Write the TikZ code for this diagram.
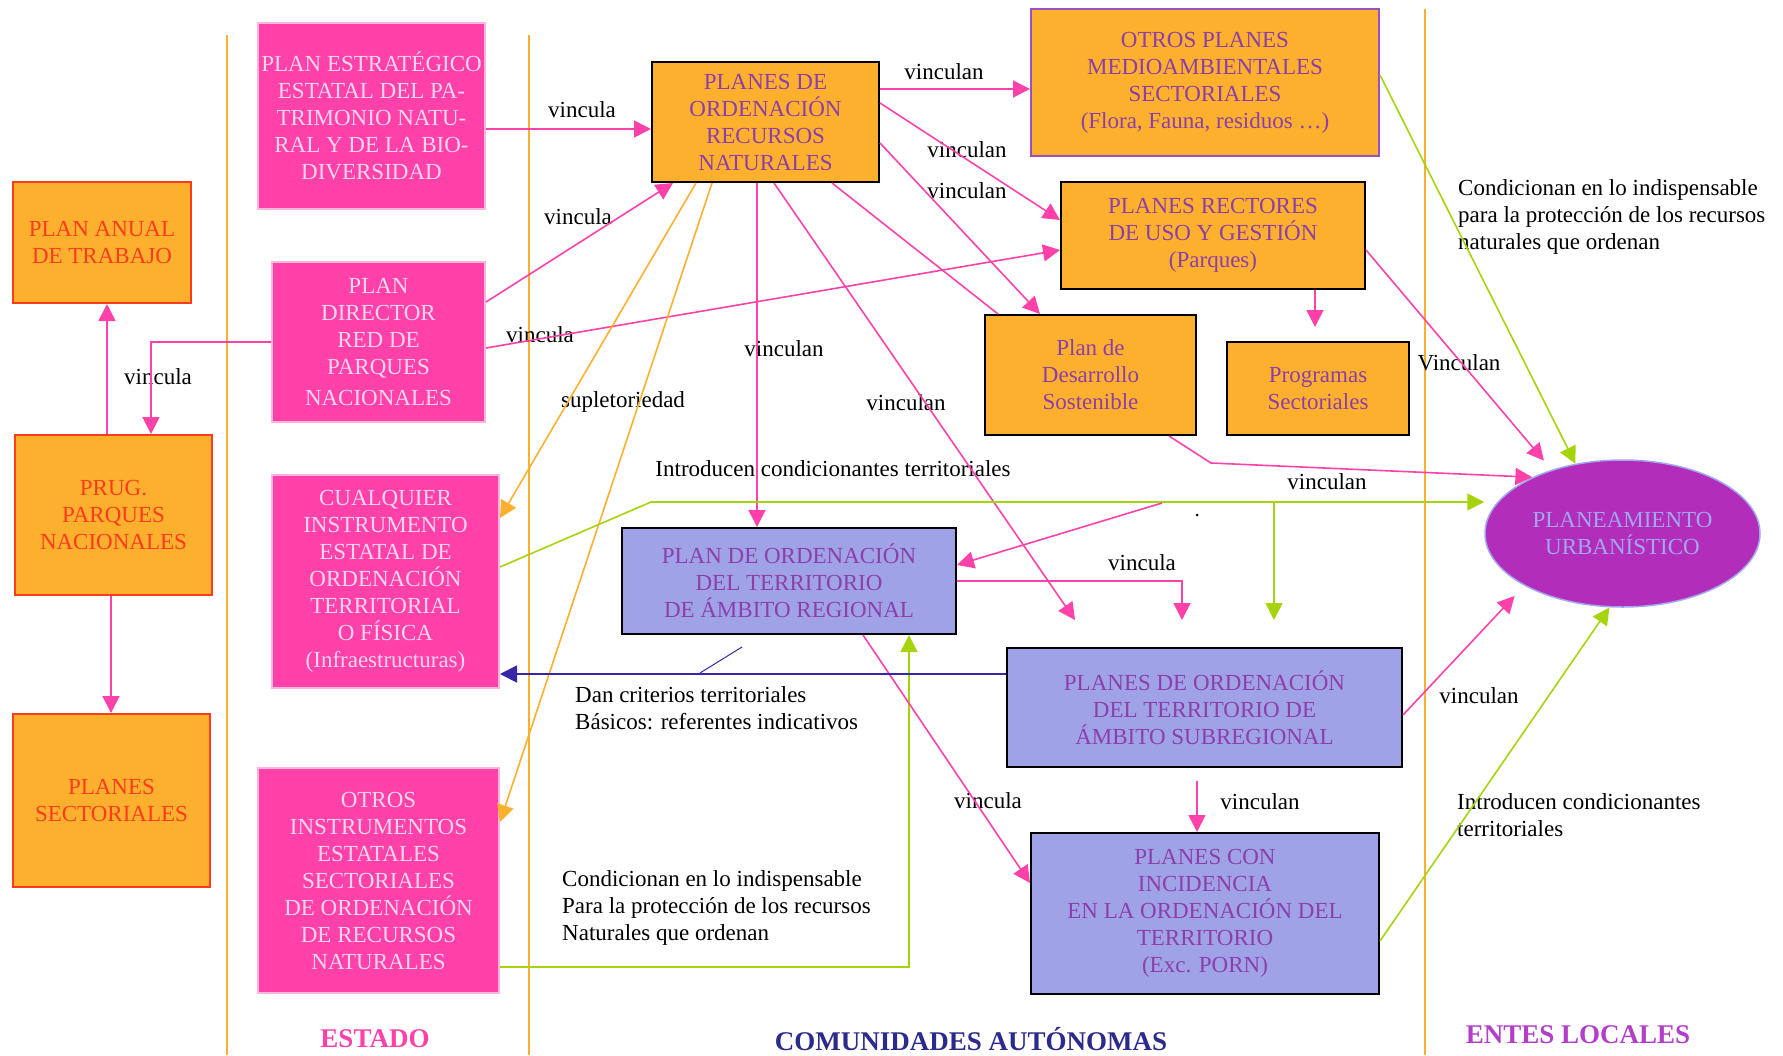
\documentclass[tikz,border=0pt]{standalone}
\usepackage{fontspec}
\setmainfont{Liberation Serif}
\usetikzlibrary{arrows.meta,shapes.geometric}
\definecolor{rosa}{HTML}{FF41A9}
\definecolor{rosaclaro}{HTML}{FFB6DA}
\definecolor{rosatxt}{HTML}{FFD5EC}
\definecolor{naranja}{HTML}{FDB02E}
\definecolor{rojo}{HTML}{FF3B1E}
\definecolor{morado}{HTML}{8C3FA8}
\definecolor{violeta}{HTML}{9B4EC6}
\definecolor{azulc}{HTML}{A0A2E8}
\definecolor{elipse}{HTML}{B32DBB}
\definecolor{lavanda}{HTML}{A2A6F0}
\definecolor{verde}{HTML}{A6D40C}
\definecolor{azulo}{HTML}{3826A8}
\definecolor{navy}{HTML}{2C2A8A}
\definecolor{entes}{HTML}{B23ECA}

\begin{document}
\begin{tikzpicture}[x=1pt,y=-1pt,
    caja/.style={rectangle,inner sep=0pt,align=center,line width=2pt,font=\fontsize{23}{27}\selectfont},
    crosa/.style={caja,fill=rosa,draw=rosaclaro,text=rosatxt},
    cnar/.style={caja,fill=naranja,draw=rojo,text=rojo},
    cnarn/.style={caja,fill=naranja,draw=black,text=morado},
    cazul/.style={caja,fill=azulc,draw=black,text=morado},
    etq/.style={inner sep=0pt,font=\fontsize{23}{27}\selectfont},
    tit/.style={inner sep=0pt,font=\fontsize{27}{30}\selectfont\bfseries},
    fl/.style={-{Triangle[length=17pt,width=17pt]}},
    lr/.style={draw=rosa,line width=1.6pt},
    ln/.style={draw=naranja,line width=1.6pt},
    lv/.style={draw=verde,line width=1.6pt},
    la/.style={draw=azulo,line width=1.8pt}]
    \useasboundingbox(0,0)rectangle(1783,1055);
    \foreach \x/\y in{227/35,529/35,1425/9}{
            \draw[naranja,line width=2pt](\x,\y)--(\x,1055);
        }
    \node[crosa,minimum width=227pt,minimum height=186pt](est)at(371.5,116){PLAN ESTRATÉGICO\\ESTATAL DEL PA-\\TRIMONIO NATU-\\RAL Y DE LA BIO-\\DIVERSIDAD};
    \node[cnar,minimum width=178pt,minimum height=121pt](anual)at(102,242.5){PLAN ANUAL\\DE TRABAJO};
    \node[crosa,minimum width=213pt,minimum height=160pt](dir)at(378.5,342){PLAN\\DIRECTOR\\RED DE\\PARQUES\\[4pt]NACIONALES};
    \node[cnar,minimum width=197pt,minimum height=160pt](prug)at(113.5,515){PRUG.\\PARQUES\\NACIONALES};
    \node[cnar,minimum width=197pt,minimum height=173pt](sect)at(111.5,800.5){PLANES\\SECTORIALES};
    \node[crosa,minimum width=227pt,minimum height=213pt](cual)at(385.5,581.5){CUALQUIER\\INSTRUMENTO\\ESTATAL DE\\ORDENACIÓN\\TERRITORIAL\\O FÍSICA\\(Infraestructuras)};
    \node[crosa,minimum width=241pt,minimum height=225pt](otros)at(378.5,880.5){OTROS\\INSTRUMENTOS\\ESTATALES\\SECTORIALES\\DE ORDENACIÓN\\DE RECURSOS\\NATURALES};
    \node[cnarn,minimum width=227pt,minimum height=120pt](porn)at(765.5,122){PLANES DE\\ORDENACIÓN\\RECURSOS\\NATURALES};
    \node[cnarn,draw=violeta,minimum width=348pt,minimum height=147pt](opm)at(1205,82.5){OTROS PLANES\\MEDIOAMBIENTALES\\SECTORIALES\\(Flora, Fauna, residuos …)};
    \node[cnarn,minimum width=304pt,minimum height=107pt](rect)at(1213,235.5){PLANES RECTORES\\DE USO Y GESTIÓN\\(Parques)};
    \node[cnarn,minimum width=211pt,minimum height=120pt](pds)at(1090.5,375){Plan de\\Desarrollo\\Sostenible};
    \node[cnarn,minimum width=182pt,minimum height=93pt](prog)at(1318,388.5){Programas\\Sectoriales};
    \node[cazul,minimum width=334pt,minimum height=106pt](reg)at(789,581){PLAN DE ORDENACIÓN\\DEL TERRITORIO\\DE ÁMBITO REGIONAL};
    \node[cazul,minimum width=395pt,minimum height=119pt](sub)at(1204.5,707.5){PLANES DE ORDENACIÓN\\DEL TERRITORIO DE\\ÁMBITO SUBREGIONAL};
    \node[cazul,minimum width=348pt,minimum height=161pt](inc)at(1205,913.5){PLANES CON\\INCIDENCIA\\EN LA ORDENACIÓN DEL\\TERRITORIO\\(Exc. PORN)};
    \node[ellipse,fill=elipse,draw=lavanda,line width=1.5pt,text=lavanda,inner sep=0pt,align=center,
        minimum width=275pt,minimum height=147pt,font=\fontsize{23}{27}\selectfont](pu)at(1622.5,533.5){PLANEAMIENTO\\URBANÍSTICO};
    \foreach \n/\x/\y/\t in{v1/582/110/vincula,v2/944/72/vinculan,v3/967/150/vinculan,v4/967/191/vinculan,
            v5/578/217/vincula,v6/540/335/vincula,v7/158/377/vincula,v8/623/402/supletoriedad,
            v9/784/349/vinculan,v10/906/403/vinculan,v11/1459/363/Vinculan,
            v12/833/469/Introducen condicionantes territoriales,v13/1327/482/vinculan,v14/1142/563/vincula,
            v15/1479/696/vinculan,v16/988/801/vincula,v17/1260/802/vinculan}{
            \node[etq](\n)at(\x,\y){\t};
        }
    \node[etq,anchor=west,align=left](t1)at(1458,216.5){Condicionan en lo indispensable\\para la protección de los recursos\\naturales que ordenan};
    \node[etq,anchor=west,align=left](t2)at(575,708.5){Dan criterios territoriales\\Básicos: referentes indicativos};
    \node[etq,anchor=west,align=left](t3)at(562,907.5){Condicionan en lo indispensable\\Para la protección de los recursos\\Naturales que ordenan};
    \node[etq,anchor=west,align=left](t4)at(1457,815){Introducen condicionantes\\territoriales};
    \node[tit,text=rosa](h1)at(375,1039){ESTADO};
    \node[tit,text=navy](h2)at(971,1039){COMUNIDADES AUTÓNOMAS};
    \node[tit,text=entes](h3)at(1578,1035){ENTES LOCALES};
    \coordinate(q1)at(1075,620);
    \coordinate(q2)at(1182,620);
    \coordinate(q3)at(1162,503);
    \coordinate(g1)at(651,502);
    \coordinate(g2)at(1274,620);
    \coordinate(c1)at(700,673);
    \coordinate(c2)at(742,647);
    \draw[lr,fl]([yshift=-13pt]est.east)--([yshift=-7pt]porn.west);
    \draw[lr,fl]([yshift=33pt]porn.east)--([yshift=-6.5pt]opm.west);
    \draw[lr,fl]([yshift=19pt]porn.east)--([yshift=15.5pt]rect.west);
    \draw[lr,fl]([yshift=-21pt]porn.east)--([xshift=56pt]pds.north west);
    \draw[lr,fl]([yshift=40pt]dir.east)--([xshift=22pt]porn.south west);
    \draw[lr,fl]([yshift=-6pt]dir.east)--([yshift=-14.5pt]rect.west);
    \draw[lr,fl](dir.west)-|([xshift=37.5pt]prug.north);
    \draw[lr,fl]([xshift=-6.5pt]prug.north)--([xshift=5pt]anual.south);
    \draw[lr,fl]([xshift=-2.5pt]prug.south)--([xshift=-.5pt]sect.north);
    \draw[ln,fl]([xshift=45pt]porn.south west)--([yshift=63.5pt]cual.east);
    \draw[ln,fl]([xshift=61pt]porn.south west)--([yshift=58.5pt]otros.east);
    \draw[lr,fl]([xshift=-8.5pt]porn.south)--([xshift=-32pt]reg.north);
    \draw[lr,fl]([xshift=8.5pt]porn.south)--(q1);
    \draw[lr]([xshift=66.5pt]porn.south)--([xshift=14pt]pds.north west);
    \draw[lr,fl]([xshift=-28pt]pds.south east)--++(42,27)--(pu.148);
    \draw[lr,fl,shorten >=14pt]([xshift=102pt]rect.south)--([xshift=-3pt]prog.north);
    \draw[lr,fl,shorten >=12pt]([yshift=-14.5pt]rect.east)--(pu.138);
    \draw[lv,fl]([yshift=7.5pt]opm.east)--(pu.124);
    \draw[lv,fl]([yshift=14.5pt]cual.east)--(g1)--([yshift=31.5pt]pu.west);
    \draw[lv,fl](g2|-g1)--(g2);
    \draw[lv,fl]([yshift=-86.5pt]otros.east)-|([xshift=120pt]reg.south);
    \draw[lv,fl]([yshift=-27.5pt]inc.east)--(pu.260);
    \draw[lr,fl,shorten >=14pt]([yshift=-7.5pt]sub.east)--(pu.208);
    \draw[lr,fl]([xshift=-7.5pt,yshift=-13pt]sub.south)--([xshift=-8pt]inc.north);
    \draw[lr,fl]([xshift=74pt]reg.south)--([yshift=30.5pt]inc.west);
    \draw[lr,fl](reg.east)-|(q2);
    \draw[lr,fl](q3)--([yshift=16pt]reg.east);
    \draw[la,fl]([yshift=33.5pt]sub.west)--([yshift=-92.5pt]cual.east);
    \draw[la,line width=1pt](c1)--(c2);
    \fill(1197,515)circle(1.5pt);
\end{tikzpicture}
\end{document}
